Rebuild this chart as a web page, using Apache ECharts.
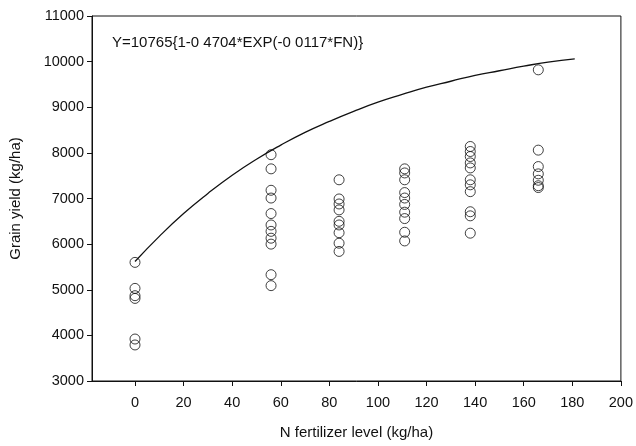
<!DOCTYPE html>
<html>
<head>
<meta charset="utf-8">
<script src="https://cdn.jsdelivr.net/npm/echarts@6/dist/echarts.min.js"></script>
<style>
html,body{margin:0;padding:0;background:#fff;}
#chart{width:636px;height:446px;}
</style>
</head>
<body>
<div id="chart"></div>
<script>
// N rates (kg/ha) of the observation columns
const nRates = [0, 56, 84, 111, 138, 166];
// observed grain yields (kg/ha) per N rate
const yieldN0   = [5600, 5030, 4870, 4810, 3920, 3790];
const yieldN56  = [7960, 7650, 7180, 7010, 6670, 6420, 6280, 6130, 6000, 5330, 5090];
const yieldN84  = [7410, 6990, 6880, 6750, 6500, 6420, 6250, 6020, 5840];
const yieldN111 = [7650, 7560, 7410, 7130, 7010, 6870, 6700, 6560, 6260, 6070];
const yieldN138 = [8140, 8030, 7920, 7780, 7670, 7410, 7300, 7150, 6710, 6620, 6240];
const yieldN166 = [9820, 8060, 7700, 7540, 7400, 7280, 7240];
// fitted response curve
const curveN     = [0, 10, 20, 30, 40, 50, 60, 70, 80, 90, 100, 110, 120, 130, 140, 150, 160, 170, 181];
const curveYield = [5620, 6170, 6670, 7110, 7510, 7860, 8170, 8450, 8690, 8910, 9110, 9280, 9440, 9570, 9700, 9800, 9900, 9990, 10060];
// tick labels
const xTicks = [0, 20, 40, 60, 80, 100, 120, 140, 160, 180, 200];
const equationText = 'Y=10765{1-0 4704*EXP(-0 0117*FN)}';

const yieldGroups = [yieldN0, yieldN56, yieldN84, yieldN111, yieldN138, yieldN166];
const scatterData = [];
yieldGroups.forEach((g, i) => g.forEach(v => scatterData.push([nRates[i], v])));
const curveData = curveN.map((n, i) => [n, curveYield[i]]);

const font = '"Liberation Sans", Arial, sans-serif';
const chart = echarts.init(document.getElementById('chart'));
chart.setOption({
  animation: false,
  backgroundColor: '#fff',
  grid: { left: 90, right: 13, top: 16, bottom: 65, show: true, borderColor: '#111', borderWidth: 1 },
  xAxis: {
    type: 'value', min: -17.7, max: 200,
    name: 'N fertilizer level (kg/ha)', nameLocation: 'middle', nameGap: 44,
    nameTextStyle: { fontFamily: font, fontSize: 15, color: '#111' },
    axisLine: { show: true, onZero: false, lineStyle: { color: '#111', width: 1 } },
    axisTick: { show: true, inside: false, length: 5, customValues: xTicks, lineStyle: { color: '#111' } },
    axisLabel: { customValues: xTicks, margin: 14, fontFamily: font, fontSize: 14.5, color: '#111' },
    splitLine: { show: false }
  },
  yAxis: {
    type: 'value', min: 3000, max: 11000, interval: 1000,
    name: 'Grain yield (kg/ha)', nameLocation: 'middle', nameGap: 69,
    nameTextStyle: { fontFamily: font, fontSize: 15, color: '#111' },
    axisLine: { show: true, onZero: false, lineStyle: { color: '#111', width: 1 } },
    axisTick: { show: true, inside: false, length: 5, lineStyle: { color: '#111' } },
    axisLabel: { margin: 8, fontFamily: font, fontSize: 14.5, color: '#111', formatter: v => String(v) },
    splitLine: { show: false }
  },
  graphic: [{
    type: 'text', left: 112, top: 35,
    style: { text: equationText, font: '15px ' + font, fill: '#111' }
  }],
  series: [
    {
      type: 'line', data: curveData, smooth: true, showSymbol: false,
      lineStyle: { color: '#111', width: 1.3 }, z: 2
    },
    {
      type: 'scatter', data: scatterData, symbol: 'circle', symbolSize: 10,
      itemStyle: { color: 'rgba(0,0,0,0)', borderColor: '#111', borderWidth: 1 }, z: 3
    }
  ]
});
</script>
</body>
</html>
